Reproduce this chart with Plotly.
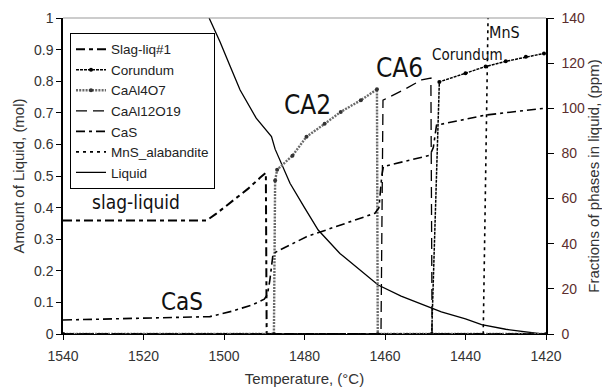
import plotly.graph_objects as go

# ---------------- data ----------------
x_ticks = [1540, 1520, 1500, 1480, 1460, 1440, 1420]
y_ticks = [0, 0.1, 0.2, 0.3, 0.4, 0.5, 0.6, 0.7, 0.8, 0.9, 1]
y2_ticks = [0, 20, 40, 60, 80, 100, 120, 140]

# Liquid amount (mol), left axis
liq_T = [1503.7, 1501, 1498.5, 1496, 1492, 1488.2, 1487.3, 1483.6, 1480, 1476.6, 1471.2,
         1465, 1461.7, 1456, 1448, 1446, 1440, 1436, 1430, 1425, 1421]
liq_v = [1.0, 0.925, 0.848, 0.772, 0.683, 0.625, 0.585, 0.477, 0.40, 0.329, 0.255,
         0.19, 0.155, 0.12, 0.081, 0.07, 0.048, 0.03, 0.015, 0.006, 0.0]

# Phases (ppm), right axis
slag_T = [1540, 1504.3, 1502, 1498, 1494, 1491, 1489.6, 1489.4, 1420]
slag_v = [50.3, 50.3, 53.2, 58.8, 64.4, 69.3, 71.4, 0, 0]

cas_T = [1540, 1503.5, 1498, 1493, 1490, 1489.2, 1488.6, 1487.8, 1479.5, 1462.5, 1461.5,
         1460.8, 1460.4, 1448.8, 1448, 1447.5, 1447.2, 1435, 1420.5]
cas_v = [6.2, 7.7, 10.1, 12.9, 15.4, 17.5, 24, 35.7, 43.1, 53.5, 56,
         70, 74.2, 79.2, 82.6, 89.6, 92.5, 97, 100]

ca2_T = [1540, 1487.6, 1487.3, 1486.8, 1483, 1479.5, 1475, 1471, 1466, 1462, 1461.8, 1420]
ca2_v = [0, 0, 68, 72.8, 79, 87.4, 93.1, 98.4, 103.6, 108.4, 0, 0]

ca6_T = [1540, 1461, 1460.5, 1455, 1450.9, 1448.6, 1448.3, 1420]
ca6_v = [0, 0, 103.6, 108.5, 112.6, 113.4, 0, 0]

cor_T = [1540, 1448.4, 1446.5, 1440, 1435, 1430, 1425, 1420.5]
cor_v = [0, 0, 111.7, 115.5, 118.5, 120.8, 122.8, 124.3]

mns_T = [1540, 1435.6, 1434.4]
mns_v = [0, 0, 140]

# ---------------- figure ----------------
fig = go.Figure()

fig.add_trace(go.Scatter(x=slag_T, y=slag_v, yaxis="y2", name="Slag-liq#1", mode="lines",
                         line=dict(color="black", width=2, dash="9px,4px,4px,4px")))
fig.add_trace(go.Scatter(x=cor_T, y=cor_v, yaxis="y2", name="Corundum", mode="lines+markers",
                         line=dict(color="black", width=1.5, dash="3px,1px"),
                         marker=dict(color="black", size=4)))
fig.add_trace(go.Scatter(x=ca2_T, y=ca2_v, yaxis="y2", name="CaAl4O7", mode="lines+markers",
                         line=dict(color="#6a6a6a", width=2.4, dash="2px,1.2px"),
                         marker=dict(color="#333", size=4)))
fig.add_trace(go.Scatter(x=ca6_T, y=ca6_v, yaxis="y2", name="CaAl12O19", mode="lines",
                         line=dict(color="black", width=1.3, dash="11px,6px")))
fig.add_trace(go.Scatter(x=cas_T, y=cas_v, yaxis="y2", name="CaS", mode="lines",
                         line=dict(color="black", width=1.6, dash="9px,4px,3px,4px")))
fig.add_trace(go.Scatter(x=mns_T, y=mns_v, yaxis="y2", name="MnS_alabandite", mode="lines",
                         line=dict(color="black", width=1.6, dash="3px,4px")))
fig.add_trace(go.Scatter(x=liq_T, y=liq_v, yaxis="y", name="Liquid", mode="lines",
                         line=dict(color="black", width=1.3)))

tickfont = dict(family="Liberation Sans, Arial, sans-serif", size=14, color="#333")
titlefont = dict(family="Liberation Sans, Arial, sans-serif", size=15, color="#333")

fig.update_layout(
    width=602, height=387,
    margin=dict(l=63, r=56, t=18, b=53, autoexpand=False),
    paper_bgcolor="white", plot_bgcolor="white",
    showlegend=True,
    legend=dict(x=0.0145, y=0.953, xanchor="left", yanchor="top",
                bgcolor="white", bordercolor="black", borderwidth=1,
                font=dict(family="Liberation Sans, Arial, sans-serif", size=13.5, color="#222"),
                tracegroupgap=0, itemwidth=30),
    xaxis=dict(range=[1540, 1420], tickvals=x_ticks, ticks="outside", ticklen=5,
               tickcolor="black", showline=True, linecolor="black", linewidth=1.2,
               showgrid=False, zeroline=False, tickfont=tickfont, ticklabelstandoff=4,
               automargin=False,
               title=dict(text="Temperature, (°C)", font=titlefont, standoff=12)),
    yaxis=dict(range=[0, 1], tickvals=y_ticks, ticktext=[str(v) for v in y_ticks],
               ticks="outside", ticklen=5, tickcolor="black",
               showline=True, linecolor="black", linewidth=1.5,
               showgrid=False, zeroline=False, tickfont=tickfont, automargin=False,
               title=dict(text="Amount of Liquid, (mol)", font=titlefont, standoff=6)),
    yaxis2=dict(range=[0, 140], tickvals=y2_ticks, overlaying="y", side="right",
                ticks="outside", ticklen=6, tickcolor="black",
                showline=True, linecolor="black", linewidth=1.5,
                showgrid=False, zeroline=False, ticklabelstandoff=5, automargin=False,
                tickfont=dict(family="Liberation Sans, Arial, sans-serif", size=14, color="#5b2d2d"),
                title=dict(text="Fractions of phases in liquid, (ppm)", font=titlefont, standoff=12)),
    xaxis2=dict(range=[1540, 1420], tickvals=x_ticks, overlaying="x", anchor="y", side="bottom",
                ticks="inside", ticklen=5, tickcolor="black", showticklabels=False,
                showline=False, showgrid=False, zeroline=False, automargin=False),
    yaxis3=dict(range=[0, 1], tickvals=y_ticks, overlaying="y", anchor="x", side="left",
                ticks="inside", ticklen=5, tickcolor="black", showticklabels=False,
                showline=False, showgrid=False, zeroline=False, automargin=False),
    yaxis4=dict(range=[0, 140], tickvals=y2_ticks, overlaying="y", anchor="x", side="right",
                ticks="inside", ticklen=6, tickcolor="black", showticklabels=False,
                showline=False, showgrid=False, zeroline=False, automargin=False),
)

# top border
fig.add_shape(type="line", xref="paper", yref="paper", x0=0, x1=1, y0=1, y1=1,
              line=dict(color="#999", width=1))

labfont = "DejaVu Sans Condensed, Liberation Sans Narrow, Arial Narrow, sans-serif"
labels = [
    ("slag-liquid", 1521.9, 0.418, 19),
    ("CaS", 1510.5, 0.101, 24),
    ("CA2", 1479.2, 0.724, 26),
    ("CA6", 1456.4, 0.841, 26),
    ("Corundum", 1439.5, 0.882, 15),
    ("MnS", 1430.3, 0.955, 16),
]
for txt, tx, ty, sz in labels:
    fig.add_annotation(x=tx, y=ty, xref="x", yref="y", text=txt, showarrow=False,
                       font=dict(family=labfont, size=sz, color="#111"))

fig.write_html("out.html")
